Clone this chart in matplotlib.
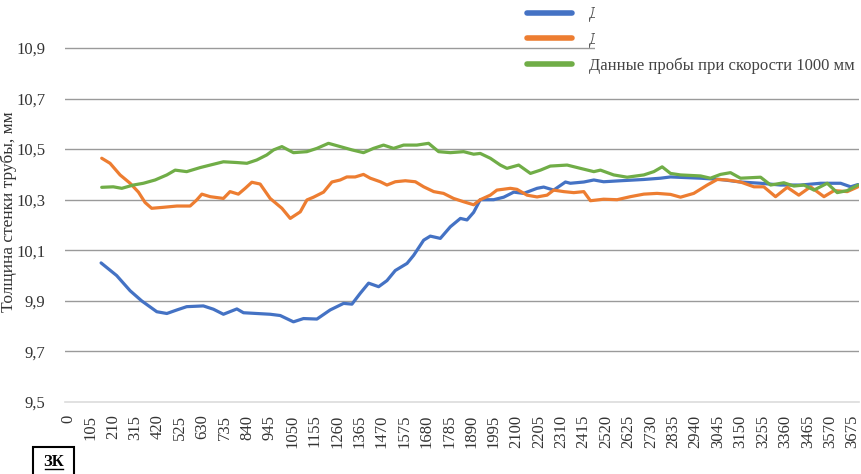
import matplotlib
matplotlib.use("Agg")
import matplotlib.pyplot as plt
from matplotlib.patches import Rectangle
from matplotlib.lines import Line2D

plt.rcParams['font.family'] = ['Liberation Serif', 'DejaVu Serif']

# ---- data ----
x_ticks = list(range(0, 3676, 105))
y_ticks = [9.5, 9.7, 9.9, 10.1, 10.3, 10.5, 10.7, 10.9]
y_tick_labels = ["9,5", "9,7", "9,9", "10,1", "10,3", "10,5", "10,7", "10,9"]

blue_x = [155, 228, 291, 345, 416, 463, 510, 556, 634, 681, 728, 791, 822, 884, 947, 994,
          1056, 1103, 1166, 1228, 1291, 1330, 1369, 1408, 1455, 1494, 1533, 1588, 1619, 1666,
          1697, 1744, 1791, 1838, 1869, 1900, 1931, 1994, 2041, 2088, 2134, 2197, 2228, 2275,
          2330, 2353, 2416, 2463, 2509, 2588, 2697, 2775, 2822, 2963, 3056, 3150, 3244, 3338,
          3431, 3525, 3619, 3666, 3700]
blue_y = [10.05, 10.00, 9.94, 9.90, 9.857, 9.85, 9.864, 9.877, 9.88, 9.867, 9.847, 9.868, 9.853,
          9.85, 9.847, 9.842, 9.817, 9.83, 9.828, 9.864, 9.89, 9.887, 9.93, 9.97, 9.956, 9.98,
          10.02, 10.048, 10.08, 10.14, 10.156, 10.147, 10.193, 10.226, 10.22, 10.25, 10.30, 10.30,
          10.31, 10.33, 10.325, 10.345, 10.35, 10.338, 10.37, 10.365, 10.37, 10.378, 10.371,
          10.375, 10.38, 10.385, 10.39, 10.385, 10.38, 10.37, 10.365, 10.358, 10.358, 10.365,
          10.365, 10.351, 10.36]

orange_x = [158, 197, 244, 291, 330, 361, 392, 447, 510, 572, 603, 627, 666, 728, 759, 798, 830,
            861, 900, 947, 1002, 1041, 1088, 1119, 1150, 1197, 1236, 1275, 1306, 1345, 1384, 1416,
            1463, 1494, 1533, 1580, 1627, 1666, 1713, 1759, 1806, 1853, 1900, 1931, 1978, 2009,
            2072, 2103, 2150, 2197, 2244, 2275, 2322, 2369, 2416, 2447, 2509, 2572, 2634, 2697,
            2759, 2822, 2869, 2931, 2994, 3041, 3088, 3150, 3213, 3259, 3314, 3369, 3423, 3478,
            3541, 3588, 3650, 3700]
orange_y = [10.464, 10.444, 10.398, 10.365, 10.33, 10.289, 10.266, 10.27, 10.275, 10.275, 10.299,
            10.322, 10.312, 10.305, 10.332, 10.322, 10.345, 10.369, 10.362, 10.305, 10.266, 10.226,
            10.252, 10.299, 10.31, 10.33, 10.37, 10.378, 10.39, 10.39, 10.40, 10.385, 10.371,
            10.358, 10.371, 10.375, 10.371, 10.351, 10.332, 10.325, 10.305, 10.292, 10.28, 10.30,
            10.318, 10.338, 10.345, 10.341, 10.318, 10.311, 10.318, 10.338, 10.332, 10.328,
            10.332, 10.296, 10.302, 10.30, 10.312, 10.322, 10.325, 10.321, 10.31, 10.325, 10.358,
            10.38, 10.378, 10.37, 10.351, 10.351, 10.312, 10.349, 10.318, 10.351, 10.312, 10.336,
            10.332, 10.351]

green_x = [158, 212, 252, 306, 353, 408, 463, 502, 556, 619, 666, 728, 791, 838, 884, 931, 963,
           1002, 1056, 1119, 1166, 1220, 1275, 1330, 1384, 1431, 1478, 1525, 1572, 1634, 1689,
           1736, 1791, 1853, 1900, 1931, 1978, 2025, 2056, 2111, 2166, 2213, 2259, 2338, 2400,
           2463, 2494, 2556, 2619, 2697, 2744, 2783, 2822, 2869, 2963, 3009, 3056, 3103, 3150,
           3244, 3291, 3353, 3400, 3447, 3494, 3556, 3603, 3650, 3700]
green_y = [10.349, 10.351, 10.345, 10.358, 10.365, 10.378, 10.398, 10.417, 10.411, 10.427, 10.437,
           10.45, 10.447, 10.444, 10.457, 10.477, 10.497, 10.51, 10.486, 10.49, 10.503, 10.523,
           10.51, 10.497, 10.486, 10.503, 10.516, 10.503, 10.516, 10.516, 10.523, 10.49, 10.486,
           10.49, 10.48, 10.483, 10.464, 10.437, 10.424, 10.437, 10.404, 10.417, 10.433, 10.437,
           10.424, 10.411, 10.417, 10.398, 10.389, 10.398, 10.411, 10.43, 10.404, 10.398, 10.394,
           10.385, 10.40, 10.407, 10.385, 10.389, 10.358, 10.367, 10.354, 10.358, 10.338, 10.365,
           10.328, 10.336, 10.358]

labels = ["Данные пробы при скорости 250 мм",
          "Данные пробы при скорости 500 мм",
          "Данные пробы при скорости 1000 мм"]
y_title = "Толщина стенки трубы, мм"
badge = "ЗК"

# ---- figure ----
W, H = 862, 474
fig = plt.figure(figsize=(W / 100, H / 100), dpi=100)
ax = fig.add_axes([65 / W, 1 - 402 / H, 794 / W, (402 - 22.7) / H])

colors = ['#4472C4', '#ED7D31', '#70AD47']
lw = 2.3
l1, = ax.plot(blue_x, blue_y, color=colors[0], lw=lw, solid_capstyle='round', zorder=3)
l2, = ax.plot(orange_x, orange_y, color=colors[1], lw=lw, solid_capstyle='round', zorder=3)
l3, = ax.plot(green_x, green_y, color=colors[2], lw=lw, solid_capstyle='round', zorder=3)

ax.set_xlim(-14, 3705)
ax.set_ylim(9.5, 11.0)
ax.set_yticks(y_ticks)
ax.set_yticklabels(y_tick_labels)
ax.set_xticks(x_ticks)
ax.set_xticklabels([str(v) for v in x_ticks], rotation=90, va='top', ha='center')
ax.tick_params(axis='both', length=0, labelsize=12, colors='#333333')
ax.tick_params(axis='y', pad=14)
ax.tick_params(axis='x', pad=9)

for v in y_ticks[1:]:
    ax.axhline(v, color='#9a9a9a', lw=1.0, zorder=1)
for s in ['top', 'right', 'left']:
    ax.spines[s].set_visible(False)
ax.spines['bottom'].set_color('#dcdcdc')
ax.spines['bottom'].set_linewidth(1.2)

fig.text(9 / W, 1 - 212 / H, y_title, rotation=90, ha='center', va='center',
         fontsize=12.5, color='#333333')

leg = fig.legend([l1, l2, l3], labels, loc='upper left',
                 bbox_to_anchor=(527 / W, 1 - 6 / H), frameon=False,
                 fontsize=12, handlelength=2.7, handletextpad=1.0,
                 labelspacing=0.56, borderpad=0, borderaxespad=0)
for line in leg.get_lines():
    line.set_linewidth(4)
for t in leg.get_texts():
    t.set_color('#444444')

# white overlay covering top-right part of legend
fig.add_artist(Rectangle((595 / W, 1 - 53 / H), (W - 595) / W, 53 / H,
                         transform=fig.transFigure, facecolor='white',
                         edgecolor='none', zorder=10))

# badge box bottom-left
fig.add_artist(Rectangle((33 / W, 1 - 476 / H), 41 / W, 29 / H,
                         transform=fig.transFigure, facecolor='white',
                         edgecolor='black', lw=1.5, zorder=5))
fig.text(54 / W, 1 - 462 / H, badge, ha='center', va='center', fontsize=12,
         fontweight='bold', color='black', zorder=6)
fig.add_artist(Line2D([45 / W, 63 / W], [1 - 469 / H, 1 - 469 / H],
                      transform=fig.transFigure, color='black', lw=1.0, zorder=6))

fig.savefig("out.png", dpi=100)
